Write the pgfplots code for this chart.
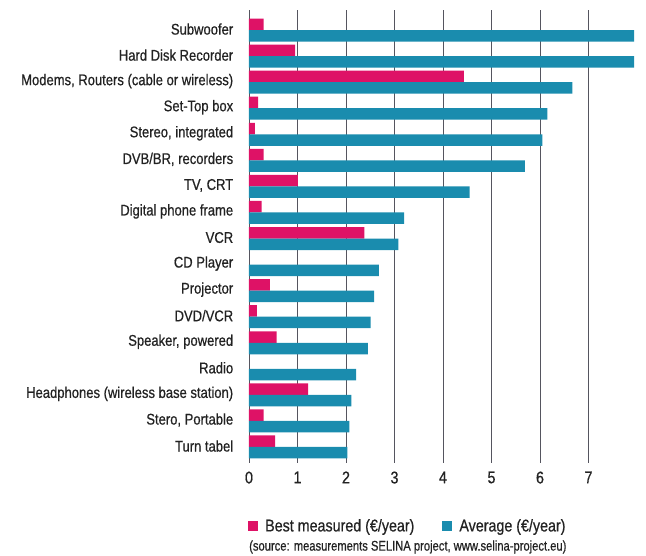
\documentclass[border=0pt]{standalone}
\usepackage{fontspec}
\setmainfont[FakeStretch=0.84,FakeBold=0.6]{Liberation Sans}
\newfontfamily\srcfont[FakeStretch=0.8,FakeBold=0.6]{Liberation Sans}
\newfontfamily\legfont[FakeStretch=0.84,FakeBold=0.6]{Liberation Sans}
\usepackage{pgfplots}
\pgfplotsset{compat=1.18}
\definecolor{bestc}{HTML}{DE1266}
\definecolor{avgc}{HTML}{1A8CAE}
\definecolor{gridc}{HTML}{55555F}
\definecolor{txt}{HTML}{222222}
\begin{document}
\begin{tikzpicture}
\useasboundingbox (0,0) rectangle (646pt,556pt);
\begin{axis}[
  name=ax,
  at={(249pt,93pt)}, anchor=south west,
  scale only axis,
  width=388pt, height=453pt,
  xmin=0, xmax=8, ymin=-0.614, ymax=16.77,
  xbar, bar width=11.5pt,
  xtick={0,1,2,3,4,5,6,7},
  ytick={0,...,16},
  yticklabels={Turn tabel,{Stero, Portable},Headphones (wireless base station),Radio,{Speaker, powered},DVD/VCR,Projector,CD Player,VCR,Digital phone frame,{TV, CRT},{DVB/BR, recorders},{Stereo, integrated},Set-Top box,{Modems, Routers (cable or wireless)},Hard Disk Recorder,Subwoofer},
  axis line style={draw=none},
  tick style={draw=none},
  xmajorgrids,
  grid style={gridc, line width=0.9pt},
  ymajorgrids=false,
  /pgf/number format/assume math mode=true,
  tick label style={text=txt},
  yticklabel style={font=\fontsize{15.5}{17}\selectfont, xshift=-8pt, yshift=1pt},
  xticklabel style={font=\fontsize{17}{19}\selectfont, yshift=-5pt},
  legend style={at={(rel axis cs:0,0)}, anchor=west, yshift=-63pt, xshift=-1pt,
    draw=none, fill=none, inner sep=0pt, font=\legfont\fontsize{17}{19}\selectfont, text=txt,
    /tikz/every even column/.append style={column sep=26pt}},
  legend columns=2,
  legend image code/.code={\fill[#1] (0pt,-5pt) rectangle (10pt,5pt); \path (15pt,0pt);},
  clip=false,
]
\addplot[fill=bestc, draw=none, bar shift=5.75pt] coordinates {
  (0.54,0) (0.30,1) (1.22,2) (0.57,4) (0.16,5) (0.43,6)
  (2.38,8) (0.26,9) (1.01,10) (0.30,11) (0.12,12) (0.19,13) (4.43,14) (0.95,15) (0.30,16)
};
\addlegendentry{Best measured (€/year)}
\addplot[fill=avgc, draw=none, bar shift=-5.75pt] coordinates {
  (2.03,0) (2.07,1) (2.11,2) (2.21,3) (2.45,4) (2.51,5) (2.58,6) (2.68,7)
  (3.08,8) (3.20,9) (4.55,10) (5.69,11) (6.05,12) (6.15,13) (6.67,14) (7.94,15) (7.94,16)
};
\addlegendentry{Average (€/year)}
\end{axis}
\node[anchor=west, inner sep=0pt, text=txt, font=\srcfont\fontsize{14}{16}\selectfont] at ([yshift=-84pt]ax.south west) {(source: measurements SELINA project, www.selina-project.eu)};
\end{tikzpicture}
\end{document}
